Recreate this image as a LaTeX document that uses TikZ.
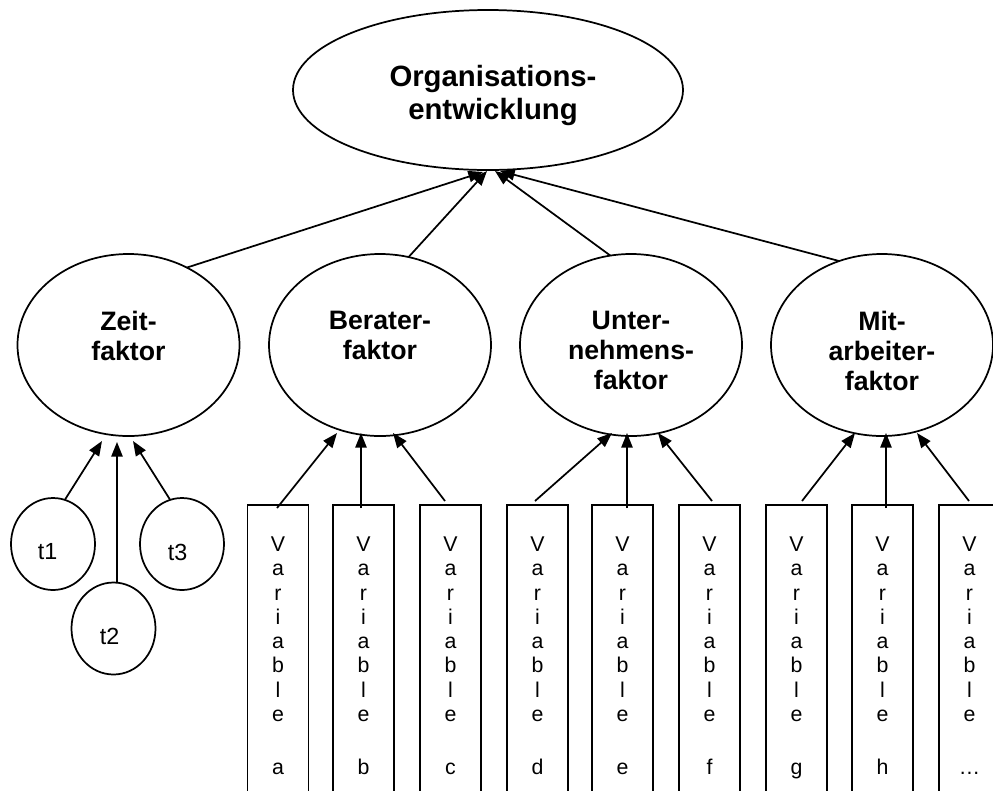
\documentclass[tikz,border=0pt]{standalone}
\usepackage{fontspec}
\setmainfont{Liberation Sans}
\usetikzlibrary{arrows.meta,calc,shapes.geometric}

\begin{document}
\begin{tikzpicture}[x=0.75pt,y=-0.75pt,line width=1.3pt,
  oval/.style={ellipse,draw,inner sep=0pt,outer sep=0pt},
  topoval/.style={oval,minimum width=390*0.75pt,minimum height=160*0.75pt},
  factoroval/.style={oval,minimum width=222*0.75pt,minimum height=182*0.75pt},
  timeoval/.style={oval,minimum width=84*0.75pt,minimum height=92*0.75pt},
  varbox/.style={rectangle,draw,anchor=north,inner sep=0pt,outer sep=0pt,
    minimum width=61*0.75pt,minimum height=310*0.75pt},
  toplabel/.style={anchor=north,align=center,inner sep=0pt,
    font=\bfseries\fontsize{22}{24.75}\selectfont},
  factorlabel/.style={anchor=north,align=center,inner sep=0pt,
    font=\bfseries\fontsize{20}{22.5}\selectfont},
  timelabel/.style={inner sep=0pt,font=\fontsize{17.5}{20}\selectfont},
  varlabel/.style={anchor=north,align=center,inner sep=0pt,
    font=\fontsize{16}{18.2}\selectfont},
  arr/.style={draw,-{Triangle[length=11pt,width=8.5pt]}}]

\useasboundingbox (0,0) rectangle (993,790);
\clip (0,0) rectangle (993,790);

% top level
\node[topoval] (org) at (488,90) {};
\node[toplabel] (org-t) at (493,64) {Organisations-\\entwicklung};

% factors
\node[factoroval] (zeit) at (128.5,345) {};
\node[factoroval] (ber) at (380,345) {};
\node[factoroval] (unt) at (631,345) {};
\node[factoroval] (mit) at (882,345) {};
\node[factorlabel] (zeit-t) at (128.5,310) {Zeit-\\faktor};
\node[factorlabel] (ber-t) at (380,310) {Berater-\\faktor};
\node[factorlabel] (unt-t) at (631,310) {Unter-\\nehmens-\\faktor};
\node[factorlabel] (mit-t) at (882,310) {Mit-\\arbeiter-\\faktor};

% time points
\node[timeoval] (t1) at (53,544) {};
\node[timeoval] (t2) at (113.5,628.5) {};
\node[timeoval] (t3) at (182,544) {};
\node[timelabel] (t1-t) at (47.5,552) {t1};
\node[timelabel] (t2-t) at (109.5,636) {t2};
\node[timelabel] (t3-t) at (177.5,552) {t3};

% variable columns
\foreach \n/\cx/\lt in {a/278/a,b/363.5/b,c/450.5/c,d/537.5/d,e/622.5/e,
                        f/709.5/f,g/796.5/g,h/882.5/h,i/969.5/…}{
  \node[varbox] (v\n) at (\cx,505) {};
  \node[varlabel] (v\n-t) at (\cx,536) {V\\a\\r\\i\\a\\b\\l\\e\\[3.75pt]\\\lt};
}

% factors -> top
\draw[arr] (zeit.53) -- ($(org.south)+(-5,2)$);
\draw[arr] (ber.72) -- ($(org.south)+(-1,1)$);
\draw[arr] (unt.103) -- ($(org.south)+(7,1)$);
\draw[arr] (mit.117) -- ($(org.south)+(12,1)$);

% time points -> Zeitfaktor
\draw[arr] (t1.75) -- ($(zeit.south)+(-26.5,5)$);
\draw[arr] ($(t2.north)+(3.5,0)$) -- ($(zeit.south)+(-11.5,6)$);
\draw[arr] (t3.105) -- ($(zeit.south)+(4.5,5)$);

% variables -> Beraterfaktor
\draw[arr] ($(va.north)+(-1,3)$) -- ($(ber.south)+(-43,-3)$);
\draw[arr] ($(vb.north)+(-2.5,3)$) -- ($(ber.south)+(-19,-3)$);
\draw[arr] ($(vc.north)+(-5.5,-4)$) -- ($(ber.south)+(13,-3)$);

% variables -> Unternehmensfaktor
\draw[arr] ($(vd.north)+(-2.5,-4)$) -- ($(unt.south)+(-19,-3)$);
\draw[arr] ($(ve.north)+(4.5,3)$) -- ($(unt.south)+(-4,-3)$);
\draw[arr] ($(vf.north)+(2.5,-4)$) -- ($(unt.south)+(27,-3)$);

% variables -> Mitarbeiterfaktor
\draw[arr] ($(vg.north)+(5.5,-4)$) -- ($(mit.south)+(-27,-3)$);
\draw[arr] ($(vh.north)+(3.5,3)$) -- ($(mit.south)+(4,-3)$);
\draw[arr] ($(vi.north)+(-0.5,-4)$) -- ($(mit.south)+(35,-3)$);
\end{tikzpicture}
\end{document}
